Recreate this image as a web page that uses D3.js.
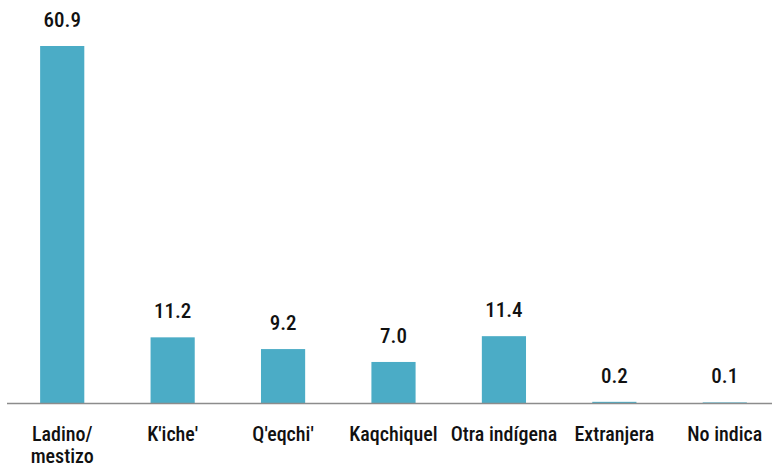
<!DOCTYPE html>
<html>
<head>
<meta charset="utf-8">
<script src="https://cdn.jsdelivr.net/npm/d3@7"></script>
<style>
  body { margin: 0; background: #fff; }
  text { font-family: Roboto, "Open Sans", sans-serif; font-stretch: condensed; font-weight: 500; fill: #111; }
</style>
</head>
<body>
<svg id="chart"></svg>
<script>
var categories = [["Ladino/", "mestizo"], ["K'iche'"], ["Q'eqchi'"], ["Kaqchiquel"], ["Otra indígena"], ["Extranjera"], ["No indica"]];
var values = [60.9, 11.2, 9.2, 7.0, 11.4, 0.2, 0.1];
var valueLabels = ["60.9", "11.2", "9.2", "7.0", "11.4", "0.2", "0.1"];

var width = 772, height = 470;
var baseY = 403;

var svg = d3.select("#chart").attr("width", width).attr("height", height);

var x = d3.scaleBand()
    .domain(d3.range(values.length))
    .range([7, 780])
    .paddingInner(0.6)
    .paddingOuter(0.3);

// 60.9 reaches y=46
var y = d3.scaleLinear().domain([0, 60.9]).range([baseY, 46]);

svg.selectAll("rect.bar")
    .data(values)
    .enter().append("rect")
    .attr("class", "bar")
    .attr("x", (d, i) => x(i))
    .attr("y", d => y(d))
    .attr("width", x.bandwidth())
    .attr("height", d => baseY - y(d))
    .attr("fill", "#4bacc6");

svg.append("line")
    .attr("x1", 7).attr("x2", width)
    .attr("y1", baseY + 0.5).attr("y2", baseY + 0.5)
    .attr("stroke", "#8c8c8c")
    .attr("stroke-width", 1.5);

svg.selectAll("text.val")
    .data(values)
    .enter().append("text")
    .attr("class", "val")
    .attr("x", (d, i) => x(i) + x.bandwidth() / 2)
    .attr("y", d => y(d) - 19)
    .attr("text-anchor", "middle")
    .attr("font-size", "21px")
    .text((d, i) => valueLabels[i]);

var cat = svg.selectAll("text.cat")
    .data(categories)
    .enter().append("text")
    .attr("class", "cat")
    .attr("x", (d, i) => x(i) + x.bandwidth() / 2)
    .attr("y", 441)
    .attr("text-anchor", "middle")
    .attr("font-size", "20px");

cat.selectAll("tspan")
    .data(d => d)
    .enter().append("tspan")
    .attr("x", function () { return this.parentNode.getAttribute("x"); })
    .attr("dy", (d, i) => i === 0 ? 0 : 22)
    .text(d => d);
</script>
</body>
</html>
